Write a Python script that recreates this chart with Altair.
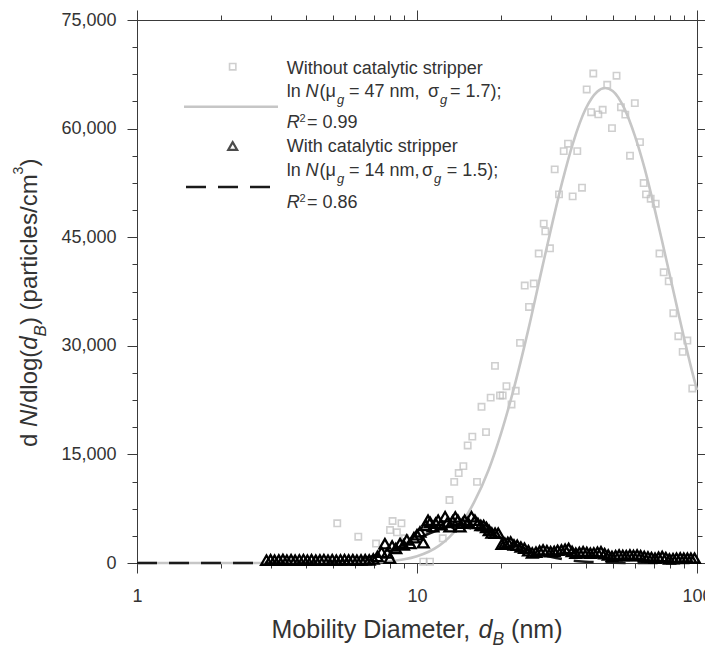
import altair as alt
import pandas as pd

# ---------------- data ----------------
sq_d = [5.19, 6.17, 7.14, 8.01, 8.18, 8.48, 8.80, 9.06, 10.53, 11.13, 12.36, 13.06,
        13.58, 14.09, 14.64, 15.17, 15.76, 16.38, 17.00, 17.64, 18.33, 18.99, 19.79,
        20.23, 20.87, 21.76, 22.52, 23.33, 24.25, 25.12, 26.12, 27.21, 28.35, 28.72,
        29.85, 31.03, 32.15, 33.42, 34.62, 35.97, 37.36, 38.84, 40.37, 41.88, 42.62,
        44.42, 46.04, 47.79, 49.70, 51.60, 53.50, 55.46, 57.64, 59.97, 62.57, 64.50,
        65.75, 68.33, 71.20, 73.46, 76.03, 79.25, 82.30, 85.76, 88.90, 92.36, 96.20]
sq_n = [5480, 3630, 2690, 4550, 5800, 4240, 5480, 3410, 180, 180, 3410, 8690,
        11200, 12420, 13380, 16240, 17460, 11200, 21570, 18080, 22840, 27230, 23140,
        23140, 24420, 21900, 23780, 30400, 38320, 35370, 38600, 42740, 46870, 45810,
        43470, 54370, 50920, 56890, 57910, 50640, 56890, 51840, 65410, 62270, 67610,
        61960, 62600, 66050, 60070, 67310, 62950, 61930, 56260, 63520, 58130, 52480,
        50920, 50320, 49630, 42740, 40150, 38910, 34500, 31320, 29160, 30730, 24110]

tri_d = [2.90, 3.00, 3.10, 3.21, 3.32, 3.43, 3.55, 3.67, 3.80, 3.93,
         4.06, 4.20, 4.35, 4.50, 4.65, 4.81, 4.98, 5.15, 5.33, 5.51,
         5.70, 5.90, 6.10, 6.31, 6.53, 6.75, 6.98, 7.22, 7.47, 7.68,
         7.83, 8.00, 8.15, 8.40, 8.70, 8.95, 9.20, 9.45, 9.75, 10.00,
         10.25, 10.53, 10.75, 10.95, 11.15, 11.40, 11.65, 11.90, 12.20, 12.60,
         12.85, 13.10, 13.40, 13.70, 14.00, 14.25, 14.55, 14.80, 15.20, 15.65,
         16.10, 16.50, 16.90, 17.30, 17.70, 18.10, 18.50, 19.00, 19.50, 20.10,
         20.60, 21.10, 21.60, 22.20, 22.80, 23.50, 24.20, 25.00, 25.80, 26.60,
         27.40, 28.20, 29.10, 30.00, 30.90, 31.80, 32.80, 33.80, 34.80, 35.80,
         36.90, 38.00, 39.20, 40.40, 41.60, 42.80, 44.10, 45.40, 46.80, 48.20,
         49.70, 51.20, 52.70, 54.30, 55.90, 57.60, 59.30, 61.10, 62.90, 64.80,
         66.80, 68.80, 70.80, 72.90, 75.10, 77.40, 79.70, 82.10, 84.50, 87.10,
         89.70, 92.40, 95.10, 98.00]
tri_n = [400, 450, 380, 420, 480, 400, 450, 380, 430, 470,
         400, 440, 380, 420, 460, 400, 450, 390, 430, 470,
         410, 440, 380, 430, 470, 420, 560, 900, 1500, 2650,
         1400, 650, 2350, 2000, 2700, 2500, 3200, 2700, 3500, 3900,
         4300, 2800, 5200, 5900, 5600, 5000, 5500, 5900, 5300, 6400,
         5600, 5000, 5800, 6350, 5900, 5000, 5500, 5900, 5600, 6400,
         5900, 5450, 5200, 5200, 4900, 4500, 4150, 4100, 4100, 2600,
         2750, 2850, 2900, 2500, 2450, 2200, 2050, 1700, 1400, 1500,
         1650, 1800, 1700, 1550, 1600, 1750, 1800, 1900, 2000, 1600,
         1350, 1450, 1550, 1450, 1350, 1400, 1500, 1550, 1300, 1100,
         900, 1000, 1100, 1050, 1000, 1100, 1050, 1100, 1000, 900,
         850, 750, 650, 800, 900, 750, 550, 600, 650, 700,
         650, 650, 650, 650]

fit1_d = [1, 2, 3, 4, 5, 6, 7, 8, 9, 10, 11, 12, 13, 14, 15, 16, 18, 20, 22, 25,
          28, 30, 33, 36, 40, 44, 47, 50, 55, 60, 65, 70, 75, 80, 85, 90, 95, 100]
fit1_n = [0, 0, 0, 0, 10, 40, 110, 250, 510, 940, 1550, 2400, 3500, 4900, 6500,
          8400, 12800, 18000, 23600, 32300, 40800, 45900, 52600, 57900, 62700,
          65100, 65600, 65200, 62800, 59000, 54500, 49500, 44500, 39700, 35200,
          31000, 27200, 23900]

fit2_d = [1, 2, 3, 4, 5, 6, 7, 8, 9, 10, 11, 12, 13, 14, 15, 16, 18, 20, 22, 25,
          30, 35, 40, 50, 60, 80, 100]
fit2_n = [0, 0, 5, 40, 160, 450, 950, 1650, 2500, 3350, 4050, 4550, 4850, 4950,
          4880, 4700, 4100, 3380, 2680, 1800, 860, 390, 180, 40, 10, 0, 0]

x_major = [1, 10, 100]
x_minor = [2, 3, 4, 5, 6, 7, 8, 9, 20, 30, 40, 50, 60, 70, 80, 90]
y_major = [0, 15000, 30000, 45000, 60000, 75000]
y_minor = [3750, 7500, 11250, 18750, 22500, 26250, 33750, 37500, 41250,
           48750, 52500, 56250, 63750, 67500, 71250]

sq_df = pd.DataFrame({"d": sq_d, "n": sq_n})
tri_df = pd.DataFrame({"d": tri_d, "n": tri_n})
f1_df = pd.DataFrame({"d": fit1_d, "n": fit1_n})
f2_df = pd.DataFrame({"d": fit2_d, "n": fit2_n})
one = pd.DataFrame({"k": [0]})

# ---------------- style ----------------
FONT = "Liberation Sans"
TXT = "#333333"
AX = "#3a3a3a"
GREY_PT = "#bcbcbc"
GREY_LN = "#c6c6c6"
TRI = "#000000"
W, H = 560, 543

xs = alt.Scale(type="log", domain=[1, 100], nice=False)
ys = alt.Scale(domain=[0, 75000], nice=False)


def X(axis=None):
    return alt.X("d:Q", scale=xs, axis=axis)


def Y(axis=None):
    return alt.Y("n:Q", scale=ys, axis=axis)


common = dict(grid=False, domainColor=AX, tickColor=AX, domainWidth=1,
              tickWidth=1, title=None)


def xaxis(orient, vals, size, labels=False):
    if labels:
        return alt.Axis(orient=orient, values=vals, tickSize=size, labels=True,
                        labelFont=FONT, labelFontSize=18, labelColor=TXT,
                        labelPadding=14, labelFlush=False, format="d", **common)
    return alt.Axis(orient=orient, values=vals, tickSize=size, labels=False, **common)


def yaxis(orient, vals, size, labels=False):
    if labels:
        return alt.Axis(orient=orient, values=vals, tickSize=size, labels=True,
                        labelFont=FONT, labelFontSize=18, labelColor=TXT,
                        labelPadding=11, format=",d", **common)
    return alt.Axis(orient=orient, values=vals, tickSize=size, labels=False, **common)


def axis_layer(xa=None, ya=None):
    return alt.Chart(sq_df).mark_point(opacity=0).encode(x=X(xa), y=Y(ya))


axes = [
    axis_layer(xa=xaxis("bottom", x_major, 10, True)),
    axis_layer(xa=xaxis("bottom", x_minor, 5)),
    axis_layer(xa=xaxis("top", x_major, 10)),
    axis_layer(xa=xaxis("top", x_minor, 5)),
    axis_layer(ya=yaxis("left", y_major, 10, True)),
    axis_layer(ya=yaxis("left", y_minor, 5)),
    axis_layer(ya=yaxis("right", y_major, 10)),
    axis_layer(ya=yaxis("right", y_minor, 5)),
]

squares = alt.Chart(sq_df).mark_point(shape="square", filled=False, stroke=GREY_PT,
                                      strokeWidth=1.6, size=40).encode(x=X(), y=Y())
fit1 = alt.Chart(f1_df).mark_line(color=GREY_LN, strokeWidth=2.6,
                                  interpolate="monotone").encode(x=X(), y=Y())
fit2 = alt.Chart(f2_df).mark_line(color="#1a1a1a", strokeWidth=2.6, strokeDash=[20, 12],
                                  interpolate="monotone").encode(x=X(), y=Y())
tris = alt.Chart(tri_df).mark_point(shape="triangle-up", filled=False, stroke=TRI,
                                    strokeWidth=2.3, size=115, opacity=1).encode(x=X(), y=Y())


def txt(s, x, y, size=18, italic=False, angle=0):
    kw = dict(text=s, font=FONT, fontSize=size, color=TXT, align="left",
              baseline="alphabetic")
    if italic:
        kw["fontStyle"] = "italic"
    if angle:
        kw["angle"] = angle
    return alt.Chart(one).mark_text(**kw).encode(x=alt.value(x), y=alt.value(y))


texts = []
# legend
texts += [
    txt("Without catalytic stripper", 149.7, 54),
    txt("ln", 149.7, 76.7), txt("N", 168.5, 76.7, italic=True), txt("(μ", 182.5, 76.7),
    txt("g", 200, 83.7, size=13, italic=True), txt("= 47 nm,", 212, 76.7),
    txt("σ", 291, 76.7), txt("g", 303, 83.7, size=13, italic=True),
    txt("= 1.7);", 313, 76.7),
    txt("R", 149.7, 108.3, italic=True), txt("2", 162.5, 101.5, size=11),
    txt("= 0.99", 170, 108.3),
    txt("With catalytic stripper", 149.7, 131.7),
    txt("ln", 149.7, 156), txt("N", 168.5, 156, italic=True), txt("(μ", 182.5, 156),
    txt("g", 200, 163, size=13, italic=True), txt("= 14 nm,", 212, 156),
    txt("σ", 285, 156), txt("g", 297, 163, size=13, italic=True),
    txt("= 1.5);", 309.7, 156),
    txt("R", 149.7, 188.3, italic=True), txt("2", 162.5, 181.5, size=11),
    txt("= 0.86", 170, 188.3),
]
# x title
texts += [
    txt("Mobility Diameter,", 134.5, 618, size=25),
    txt("d", 341.5, 618, size=25, italic=True),
    txt("B", 355.4, 624.5, size=17.5, italic=True),
    txt("(nm)", 374.1, 618, size=25),
]
# y title (rotated)
yb = -100
texts += [
    txt("d", yb, 427, size=24, angle=270),
    txt("N", yb, 407, size=24, italic=True, angle=270),
    txt("/dlog(", yb, 389.7, size=24, angle=270),
    txt("d", yb, 329.7, size=24, italic=True, angle=270),
    txt("B", yb + 9, 316.4, size=17, italic=True, angle=270),
    txt(")", yb, 305.1, size=24, angle=270),
    txt("(particles/cm", yb, 290.4, size=24, angle=270),
    txt("3", yb - 14, 154.4, size=14, angle=270),
    txt(")", yb, 146.6, size=24, angle=270),
]

# legend symbols
leg = [
    alt.Chart(one).mark_point(shape="square", filled=False, stroke=GREY_PT,
                              strokeWidth=1.6, size=40).encode(x=alt.value(95.7), y=alt.value(46.7)),
    alt.Chart(one).mark_rule(color=GREY_LN, strokeWidth=2.6).encode(
        x=alt.value(47), x2=alt.value(141), y=alt.value(86.7)),
    alt.Chart(one).mark_point(shape="triangle-up", filled=False, stroke=TRI,
                              strokeWidth=2.2, size=80).encode(x=alt.value(95.7), y=alt.value(126)),
    alt.Chart(one).mark_rule(color="#1a1a1a", strokeWidth=2.6, strokeDash=[20, 12]).encode(
        x=alt.value(49), x2=alt.value(133), y=alt.value(167)),
]

chart = alt.layer(*axes, squares, fit1, fit2, tris, *leg, *texts).resolve_axis(
    x="independent", y="independent"
).properties(
    width=W, height=H,
    autosize=alt.AutoSizeParams(type="none"),
    padding={"left": 129, "top": 12, "right": 8, "bottom": 84},
).configure_view(stroke=None)

chart.save("out.html", embed_options={"renderer": "svg", "actions": False})
